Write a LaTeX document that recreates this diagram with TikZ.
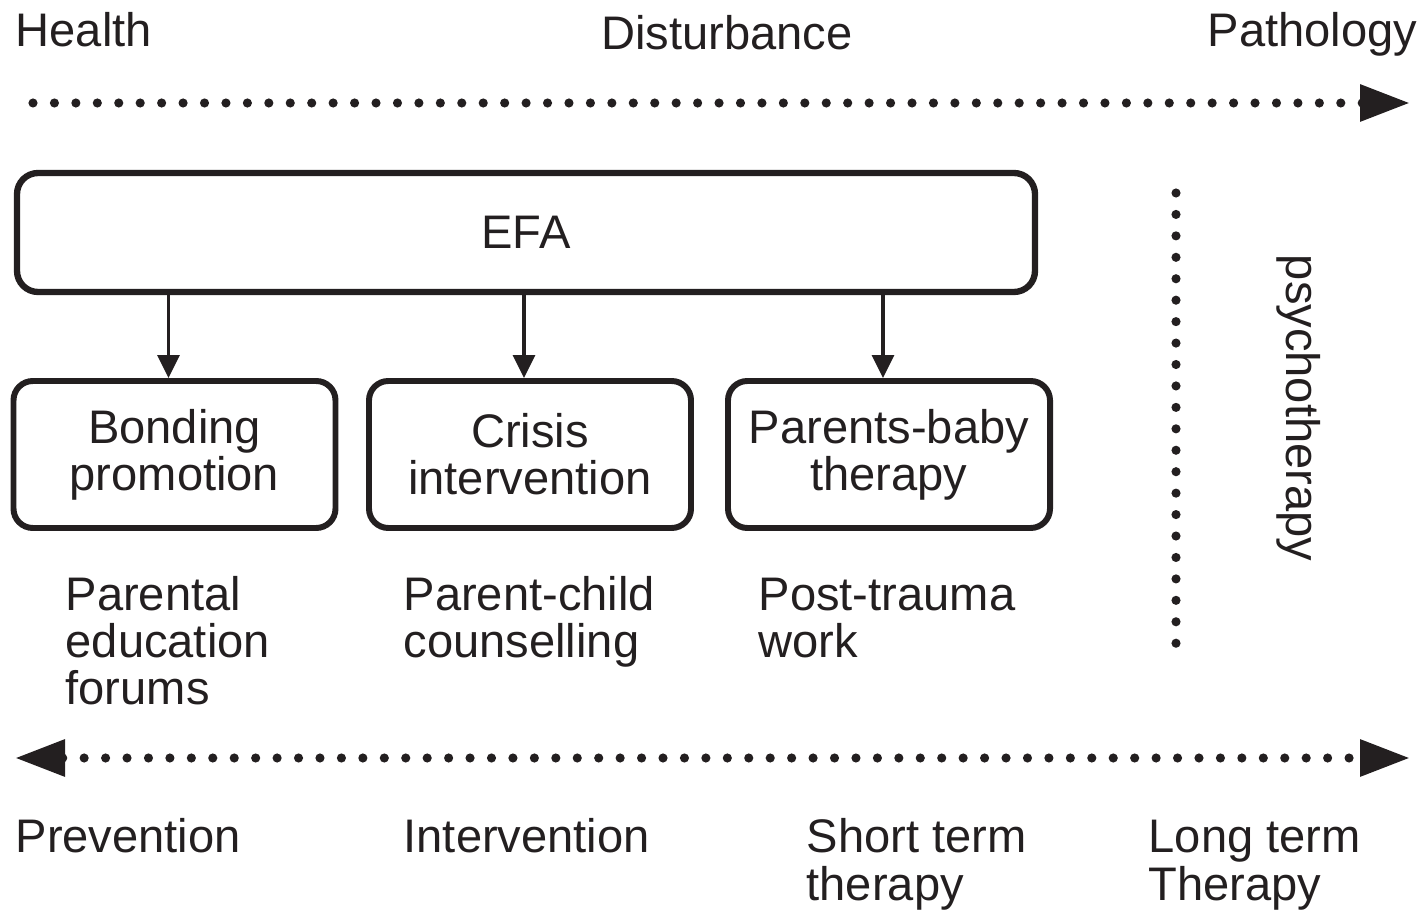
\documentclass[tikz,border=0pt]{standalone}
\usepackage{fontspec}
\setmainfont{Liberation Sans}
\usetikzlibrary{arrows.meta}
\definecolor{ink}{HTML}{231F20}
\tikzset{
  dotline/.style={line width=2.6pt, line cap=round, dash pattern=on 0pt off 6.1pt},
  careabox/.style={draw, line width=1.7pt, rounded corners=5.5pt, minimum width=3.22cm, minimum height=1.47cm, align=center, inner sep=0pt},
  lbl/.style={inner sep=0pt, align=left, anchor=base west},
  down/.style={line width=0.9pt, -{Triangle[length=2.3mm,width=2.2mm]}}
}
\begin{document}
\begin{tikzpicture}[font=\fontsize{13.4}{13.4}\selectfont, color=ink]
  \useasboundingbox (0,0) rectangle (14.26,-9.10);
  % severity scale
  \node[lbl] (health) at (0.15,-0.47) {Health};
  \node[inner sep=0pt, anchor=base] (dist) at (7.27,-0.50) {Disturbance};
  \node[inner sep=0pt, anchor=base east] (path) at (14.18,-0.47) {Pathology};
  \coordinate (s0) at (0.33,-1.03);
  \coordinate (s1) at (14.10,-1.03);
  \draw[dotline, -{Triangle[length=5mm,width=3.5mm]}] (s0) -- (s1);
  % EFA and its offers
  \node[draw, line width=1.8pt, rounded corners=6pt, minimum width=10.18cm, minimum height=1.19cm] (efa) at (5.26,-2.325) {EFA};
  \node[careabox] (bond) at (1.745,-4.545) {Bonding\\promotion};
  \node[careabox] (crisis) at (5.30,-4.545) {Crisis\\intervention};
  \node[careabox] (pbaby) at (8.89,-4.545) {Parents-baby\\therapy};
  \draw[down] ([xshift=-0.06cm]efa.south -| bond.north) -- ([xshift=-0.06cm]bond.north);
  \draw[down] ([xshift=-0.06cm]efa.south -| crisis.north) -- ([xshift=-0.06cm]crisis.north);
  \draw[down] ([xshift=-0.06cm]efa.south -| pbaby.north) -- ([xshift=-0.06cm]pbaby.north);
  \node[lbl] (forums) at (0.65,-7.05) {Parental\\education\\forums};
  \node[lbl] (couns) at (4.03,-6.58) {Parent-child\\counselling};
  \node[lbl] (trauma) at (7.58,-6.58) {Post-trauma\\work};
  % psychotherapy
  \coordinate (p0) at (11.76,-1.93);
  \coordinate (p1) at (11.76,-6.52);
  \draw[dotline] (p0) -- (p1);
  \node[rotate=-90, inner sep=0pt] (psy) at (12.99,-4.08) {psychotherapy};
  % care scale
  \coordinate (c0) at (0.15,-7.58);
  \coordinate (c1) at (14.10,-7.58);
  \draw[dotline, {Triangle[length=5mm,width=3.5mm]}-{Triangle[length=5mm,width=3.5mm]}] (c0) -- (c1);
  \node[lbl] (prev) at (0.15,-8.52) {Prevention};
  \node[lbl] (interv) at (4.03,-8.52) {Intervention};
  \node[lbl] (short) at (8.06,-9.00) {Short term\\therapy};
  \node[lbl] (long) at (11.48,-9.00) {Long term\\Therapy};
\end{tikzpicture}
\end{document}
